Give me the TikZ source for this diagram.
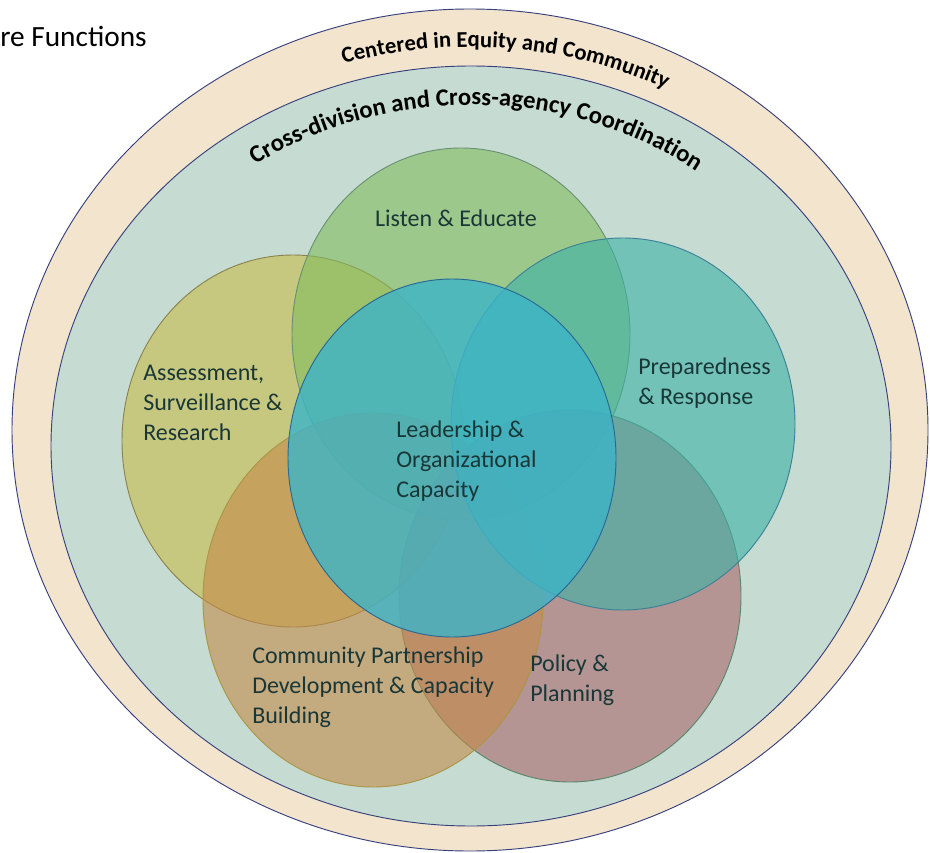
\documentclass[tikz,border=0pt]{standalone}
\usepackage{fontspec}
\setmainfont{Carlito}
\usetikzlibrary{decorations.text}
\definecolor{cbeige}{RGB}{242,228,205}
\definecolor{csage}{RGB}{198,220,210}
\definecolor{cnavy}{RGB}{55,65,125}
\definecolor{colive}{RGB}{201,187,73}
\definecolor{bolive}{RGB}{140,130,80}
\definecolor{cgreen}{RGB}{130,187,93}
\definecolor{bgreen}{RGB}{105,145,115}
\definecolor{cmauve}{RGB}{171,100,107}
\definecolor{bmauve}{RGB}{90,135,105}
\definecolor{cbrown}{RGB}{196,138,73}
\definecolor{bbrown}{RGB}{170,150,70}
\definecolor{cteal}{RGB}{58,178,167}
\definecolor{bteal}{RGB}{60,130,150}
\definecolor{cblue}{RGB}{60,180,200}
\definecolor{bblue}{RGB}{40,105,150}
\definecolor{ctext}{RGB}{25,55,55}
\tikzset{
  band/.style={draw=cnavy, line width=0.7pt},
  venn/.style={fill opacity=0.6, line width=0.7pt},
  lbl/.style={text=ctext, font=\fontsize{18}{22.5}\selectfont, align=left, inner sep=0pt},
  ringtext/.style={decorate, decoration={text along path, text align=center, text={#1}}},
}
\begin{document}
\begin{tikzpicture}[x=0.75pt, y=-0.75pt]
  \useasboundingbox (0,0) rectangle (930,852);
  \fill[white] (0,0) rectangle (930,852);
  \coordinate (out) at (470,430);
  \coordinate (in) at (471,446);
  % rings
  \draw[band, fill=cbeige] (out) ellipse [x radius=458, y radius=421];
  \draw[band, fill=csage] (in) ellipse [x radius=420, y radius=380];
  \path[ringtext={|\bfseries\fontsize{17}{17}\selectfont|Centered in Equity and Community}]
    (470,438) ++(-117:433 and 391) arc [start angle=-117, end angle=-53, x radius=433, y radius=391];
  \path[ringtext={|\bfseries\fontsize{18.5}{18.5}\selectfont|Cross-division and Cross-agency Coordination}]
    (471,446) ++(-149:381 and 341) arc [start angle=-149, end angle=-29, x radius=381, y radius=341];
  % functions
  \draw[venn, fill=colive, draw=bolive] (293,441) ellipse [x radius=171, y radius=186];
  \draw[venn, fill=cgreen, draw=bgreen] (461,334) ellipse [x radius=169, y radius=186];
  \draw[venn, fill=cmauve, draw=bmauve] (570,596) ellipse [x radius=171, y radius=186];
  \draw[venn, fill=cbrown, draw=bbrown] (373,600) ellipse [x radius=170, y radius=187];
  \draw[venn, fill=cteal, draw=bteal] (623,424) ellipse [x radius=172, y radius=186];
  \draw[venn, fill=cblue, draw=bblue, fill opacity=0.8] (452,458) ellipse [x radius=164, y radius=179];
  % labels
  \node[font=\fontsize{22}{26}\selectfont, anchor=west, inner sep=0pt] (title) at (0,36) {re Functions};
  \node[lbl] (listen) at (456,218) {Listen \& Educate};
  \node[lbl, anchor=west] (assess) at (143,403) {Assessment,\\Surveillance \&\\Research};
  \node[lbl, anchor=west] (prep) at (638,383) {Preparedness\\\& Response};
  \node[lbl, anchor=west] (lead) at (396,461) {Leadership \&\\Organizational\\Capacity};
  \node[lbl, anchor=west] (comm) at (252,687) {Community Partnership\\Development \& Capacity\\Building};
  \node[lbl, anchor=west] (policy) at (530,680) {Policy \&\\Planning};
\end{tikzpicture}
\end{document}
